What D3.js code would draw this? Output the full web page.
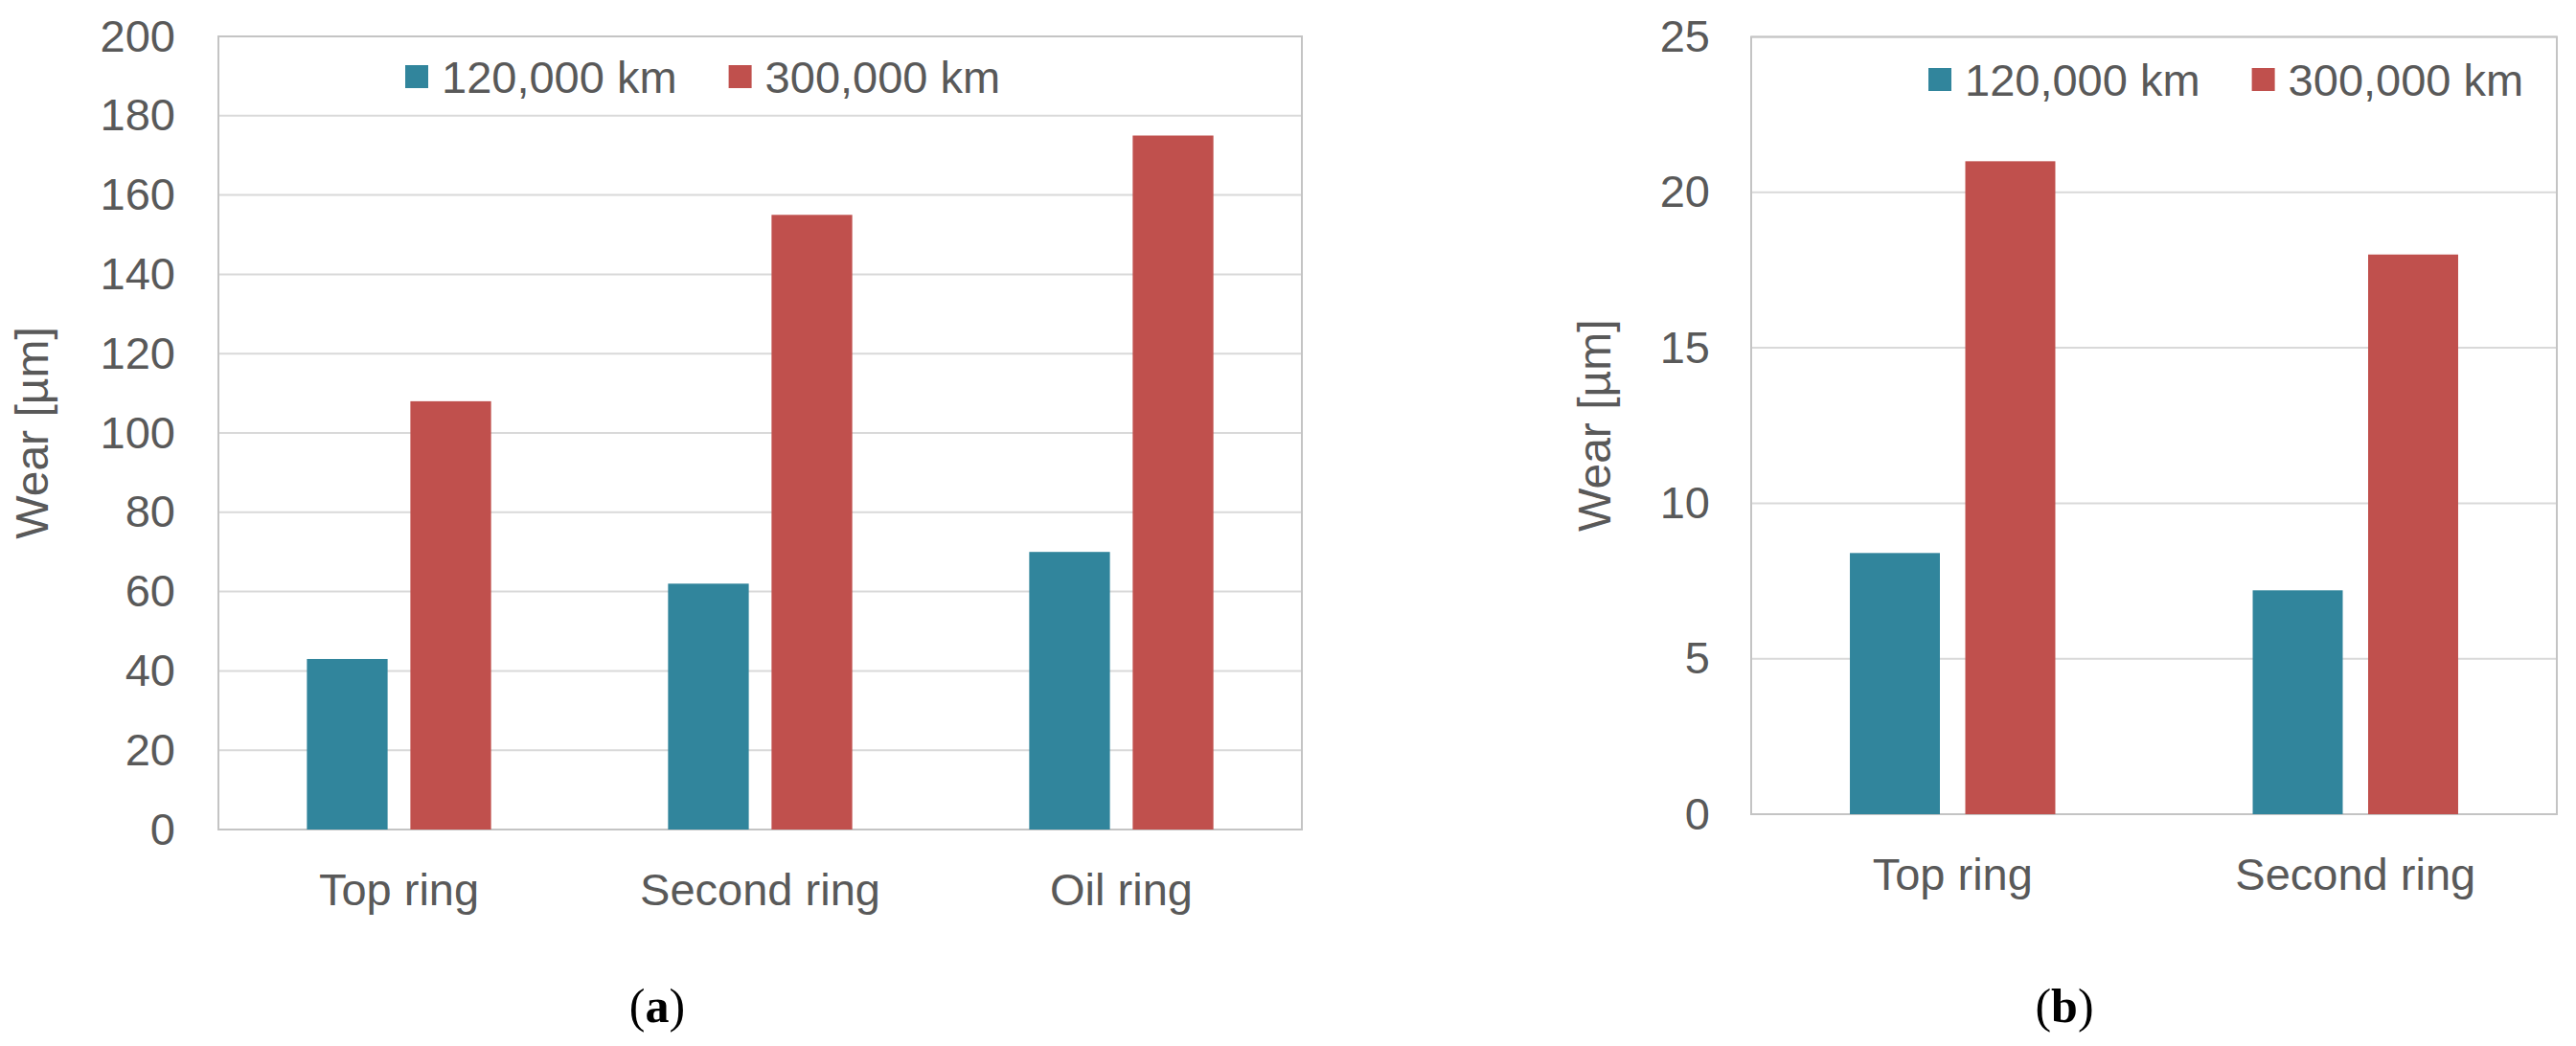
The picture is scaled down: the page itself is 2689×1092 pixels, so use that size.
<!DOCTYPE html>
<html>
<head>
<meta charset="utf-8">
<script src="https://cdn.jsdelivr.net/npm/d3@7"></script>
<style>
  html, body { margin: 0; padding: 0; background: #fff; }
  svg { display: block; }
</style>
</head>
<body>
<div id="chart"></div>
<script>
// series shared by both panels
const seriesNames = ['120,000 km', '300,000 km'];
const seriesColors = ['#31859c', '#c0504d'];

// panel (a)
const ringsA = ['Top ring', 'Second ring', 'Oil ring'];
const wearA120 = [43, 62, 70];
const wearA300 = [108, 155, 175];
const yTicksA = [0, 20, 40, 60, 80, 100, 120, 140, 160, 180, 200];

// panel (b)
const ringsB = ['Top ring', 'Second ring'];
const wearB120 = [8.4, 7.2];
const wearB300 = [21, 18];
const yTicksB = [0, 5, 10, 15, 20, 25];

const W = 2689, H = 1092;
const textColor = '#595959';
const font = "'Liberation Sans', Arial, sans-serif";

const svg = d3.select('#chart')
  .append('svg')
  .attr('width', W)
  .attr('height', H)
  .attr('viewBox', `0 0 ${W} ${H}`);

function drawPanel(cfg) {
  const { left, right, top, bottom } = cfg.box;
  const g = svg.append('g');

  const x0 = d3.scaleBand()
    .domain(cfg.categories)
    .range([left, right])
    .paddingInner(0.49)
    .paddingOuter(0.245);

  const x1 = d3.scaleBand()
    .domain(seriesNames)
    .range([0, x0.bandwidth()])
    .paddingInner(0.22);

  const y = d3.scaleLinear()
    .domain([cfg.yTicks[0], cfg.yTicks[cfg.yTicks.length - 1]])
    .range([bottom, top]);

  // gridlines
  g.selectAll('.grid')
    .data(cfg.yTicks)
    .enter()
    .append('line')
    .attr('x1', left)
    .attr('x2', right)
    .attr('y1', (d) => y(d))
    .attr('y2', (d) => y(d))
    .attr('stroke', '#d9d9d9')
    .attr('stroke-width', 2);

  // plot border
  g.append('rect')
    .attr('x', left)
    .attr('y', top)
    .attr('width', right - left)
    .attr('height', bottom - top)
    .attr('fill', 'none')
    .attr('stroke', '#c4c4c4')
    .attr('stroke-width', 2);

  // y axis labels (no domain line, no ticks)
  const yAxis = d3.axisLeft(y)
    .tickValues(cfg.yTicks)
    .tickSize(0)
    .tickPadding(cfg.tickGap);
  const ya = g.append('g')
    .attr('transform', `translate(${left},0)`)
    .call(yAxis);
  ya.select('.domain').remove();
  ya.selectAll('text')
    .attr('fill', textColor)
    .attr('font-size', '47px')
    .attr('font-family', font);

  // x axis labels
  const xAxis = d3.axisBottom(x0).tickSize(0).tickPadding(0);
  const xa = g.append('g')
    .attr('transform', `translate(0,${bottom})`)
    .call(xAxis);
  xa.select('.domain').remove();
  xa.selectAll('text')
    .attr('dy', null)
    .attr('y', 79)
    .attr('fill', textColor)
    .attr('font-size', '47px')
    .attr('font-family', font);

  // bars
  const rows = cfg.categories.map((c, i) => ({
    cat: c,
    vals: cfg.values.map((arr, s) => ({ name: seriesNames[s], v: arr[i], color: seriesColors[s] })),
  }));

  const groups = g.selectAll('.grp')
    .data(rows)
    .enter()
    .append('g')
    .attr('transform', (d) => `translate(${x0(d.cat)},0)`);

  groups.selectAll('rect')
    .data((d) => d.vals)
    .enter()
    .append('rect')
    .attr('x', (d) => x1(d.name))
    .attr('width', x1.bandwidth())
    .attr('y', (d) => y(d.v))
    .attr('height', (d) => y(0) - y(d.v))
    .attr('fill', (d) => d.color);

  // y title
  g.append('text')
    .attr('transform', `translate(${cfg.titleX},${(top + bottom) / 2}) rotate(-90)`)
    .attr('text-anchor', 'middle')
    .attr('dy', '0.35em')
    .attr('fill', textColor)
    .attr('font-size', '48px')
    .attr('font-family', font)
    .text('Wear [µm]');

  // legend
  let lx = cfg.legend.x;
  seriesNames.forEach((name, i) => {
    g.append('rect')
      .attr('x', lx)
      .attr('y', cfg.legend.y - 12)
      .attr('width', 24)
      .attr('height', 24)
      .attr('fill', seriesColors[i]);
    const t = g.append('text')
      .attr('x', lx + 38)
      .attr('y', cfg.legend.y + 17)
      .attr('fill', textColor)
      .attr('font-size', '47px')
      .attr('font-family', font)
      .text(name);
    lx += 38 + t.node().getComputedTextLength() + 54;
  });

  // caption
  const cap = g.append('text')
    .attr('x', cfg.caption.x)
    .attr('y', 1067)
    .attr('text-anchor', 'middle')
    .attr('font-size', '50px')
    .attr('font-family', "'Liberation Serif', 'DejaVu Serif', serif")
    .attr('fill', '#000');
  cap.append('tspan').text('(');
  cap.append('tspan').attr('font-weight', 'bold').text(cfg.caption.letter);
  cap.append('tspan').text(')');
}

drawPanel({
  box: { left: 228, right: 1359, top: 38, bottom: 866 },
  categories: ringsA,
  values: [wearA120, wearA300],
  yTicks: yTicksA,
  tickGap: 45,
  titleX: 33,
  legend: { x: 423, y: 80 },
  caption: { x: 686, letter: 'a' },
});

drawPanel({
  box: { left: 1828, right: 2669, top: 38.5, bottom: 850 },
  categories: ringsB,
  values: [wearB120, wearB300],
  yTicks: yTicksB,
  tickGap: 43,
  titleX: 1664,
  legend: { x: 2013, y: 83 },
  caption: { x: 2155, letter: 'b' },
});
</script>
</body>
</html>
